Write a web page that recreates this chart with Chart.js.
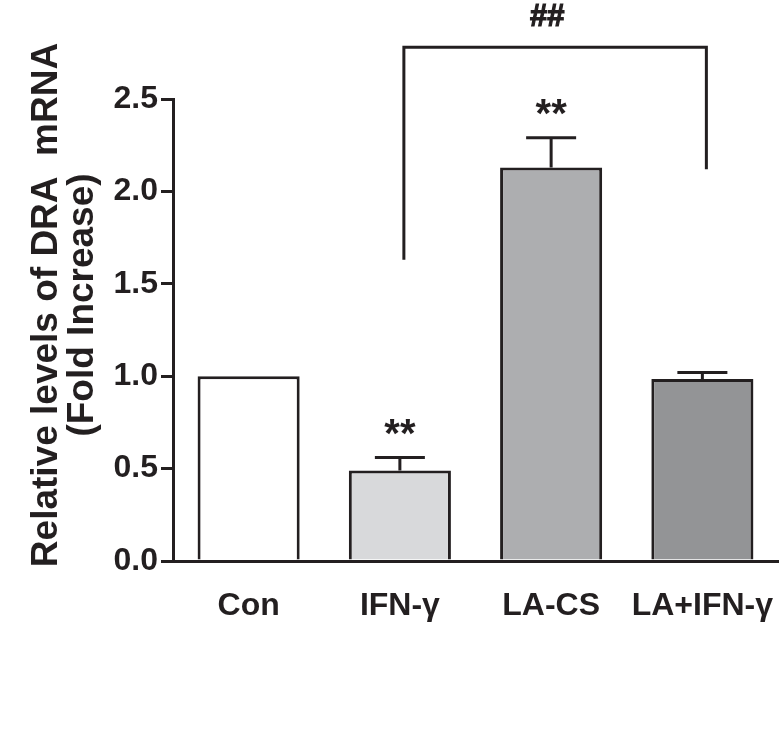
<!DOCTYPE html>
<html>
<head>
<meta charset="utf-8">
<script src="https://cdn.jsdelivr.net/npm/chart.js@4.4.0/dist/chart.umd.min.js"></script>
<style>
  html, body { margin: 0; padding: 0; background: #fff; }
  #wrap { width: 780px; height: 755px; }
</style>
</head>
<body>
<div id="wrap"><canvas id="chart" width="780" height="755"></canvas></div>
<script>
// data
const categories = ['Con', 'IFN-\u03b3', 'LA-CS', 'LA+IFN-\u03b3'];
const foldChange = [1.0, 0.49, 2.13, 0.985];
const errUpper = [0, 0.07, 0.16, 0.035];
const barColors = ['#ffffff', '#d8d9db', '#adaeb0', '#939496'];
const starLabels = ['', '**', '**', ''];
const yTicks = [0, 0.5, 1.0, 1.5, 2.0, 2.5];

// significance bracket between IFN-γ and LA+IFN-γ (in data units)
const bracketFrom = 1, bracketTo = 3;
const bracketTop = 2.78, bracketLeftEnd = 1.63, bracketRightEnd = 2.12;
const bracketLabel = '##';

const ink = '#231f20';
const font = '"Liberation Sans", Arial, Helvetica, sans-serif';

// error bars, stars, bracket and axis title
const extras = {
  id: 'extras',
  afterDatasetsDraw(chart) {
    const ctx = chart.ctx;
    const y = chart.scales.y;
    const bars = chart.getDatasetMeta(0).data;
    ctx.save();
    ctx.strokeStyle = ink;
    ctx.fillStyle = ink;
    ctx.lineWidth = 3;

    bars.forEach((bar, i) => {
      const top = foldChange[i] + errUpper[i];
      if (errUpper[i] > 0) {
        const y0 = y.getPixelForValue(foldChange[i]);
        const y1 = y.getPixelForValue(top);
        ctx.beginPath();
        ctx.moveTo(bar.x, y0);
        ctx.lineTo(bar.x, y1);
        ctx.moveTo(bar.x - 25, y1);
        ctx.lineTo(bar.x + 25, y1);
        ctx.stroke();
      }
      if (starLabels[i]) {
        ctx.font = 'bold 40px ' + font;
        ctx.textAlign = 'center';
        ctx.textBaseline = 'middle';
        ctx.fillText(starLabels[i], bar.x, y.getPixelForValue(top) - 22);
      }
    });

    // bracket
    const xl = bars[bracketFrom].x + 4, xr = bars[bracketTo].x + 4;
    const yt = y.getPixelForValue(bracketTop);
    ctx.beginPath();
    ctx.moveTo(xl, y.getPixelForValue(bracketLeftEnd));
    ctx.lineTo(xl, yt);
    ctx.lineTo(xr, yt);
    ctx.lineTo(xr, y.getPixelForValue(bracketRightEnd));
    ctx.stroke();
    ctx.font = 'bold 31px ' + font;
    ctx.textAlign = 'center';
    ctx.textBaseline = 'middle';
    ctx.lineWidth = 1.2;
    ctx.fillText(bracketLabel, (xl + xr) / 2 - 8, yt - 30);
    ctx.strokeText(bracketLabel, (xl + xr) / 2 - 8, yt - 30);

    // y axis title, two lines rotated
    ctx.font = 'bold 37px ' + font;
    ctx.translate(0, 305);
    ctx.rotate(-Math.PI / 2);
    ctx.fillText('Relative levels of DRA  mRNA', 0, 47);
    ctx.fillText('(Fold Increase)', 0, 83);
    ctx.restore();
  }
};

new Chart(document.getElementById('chart'), {
  type: 'bar',
  data: {
    labels: categories,
    datasets: [{
      data: foldChange,
      backgroundColor: barColors,
      borderColor: ink,
      borderWidth: 3,
      barPercentage: 0.675,
      categoryPercentage: 1.0
    }]
  },
  options: {
    responsive: false,
    animation: false,
    events: [],
    layout: { padding: { top: 99, right: 2, left: 0, bottom: 0 } },
    plugins: { legend: { display: false }, tooltip: { enabled: false } },
    scales: {
      x: {
        offset: true,
        grid: { display: false, drawTicks: false },
        border: { color: ink, width: 3 },
        ticks: { color: ink, padding: 26, font: { family: font, size: 32, weight: 'bold' } },
        afterFit(scale) {
          scale.height = 194;
          scale.paddingLeft = 0;
          scale.paddingRight = 0;
        }
      },
      y: {
        min: 0,
        max: 2.5,
        afterBuildTicks(scale) { scale.ticks = yTicks.map(v => ({ value: v })); },
        grid: { drawOnChartArea: false, drawTicks: true, tickLength: 12, color: ink, lineWidth: 3 },
        border: { color: ink, width: 3 },
        ticks: {
          color: ink,
          padding: 3,
          font: { family: font, size: 32, weight: 'bold' },
          callback: v => v.toFixed(1)
        },
        afterFit(scale) {
          scale.width = 173;
          scale.paddingTop = 0;
          scale.paddingBottom = 0;
        }
      }
    }
  },
  plugins: [extras]
});
</script>
</body>
</html>
